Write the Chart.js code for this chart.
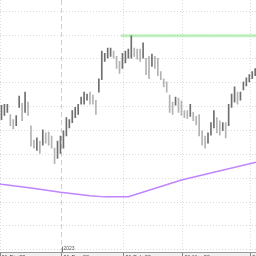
<!DOCTYPE html>
<html>
<head>
<meta charset="utf-8">
<script src="https://cdn.jsdelivr.net/npm/chart.js@4/dist/chart.umd.min.js"></script>
<style>
  html, body { margin: 0; padding: 0; background: #fff; }
  canvas { display: block; }
</style>
</head>
<body>
<canvas id="chart" width="256" height="256"></canvas>
<script>
// daily bars (high / low), one per trading day from 01-Dic-22
const highs = [
  15.06, 15.10, 15.10, 14.67, 14.46, 14.63, 15.44, 15.14, 15.61, 15.19,
  14.20, 13.60, 13.69, 13.56, 14.03, 13.90, 13.94, 13.77, 13.26, 13.56,
  13.77, 13.99, 14.54, 14.46, 14.84, 14.97, 15.10, 15.40, 15.61, 15.53,
  15.61, 15.49, 15.27, 16.17, 17.33, 17.24, 17.46, 17.46, 17.33, 17.11,
  16.90, 17.24, 17.33, 17.41, 17.97, 17.46, 17.41, 17.41, 17.67, 17.03,
  17.11, 17.20, 17.11, 17.03, 16.47, 16.17, 16.04, 15.49, 15.19, 15.40,
  15.36, 15.23, 14.84, 14.84, 15.10, 14.76, 14.59, 14.67, 13.99, 13.77,
  13.90, 14.33, 14.84, 14.54, 14.41, 14.33, 14.33, 15.10, 15.53, 15.83,
  15.61, 15.61, 16.04, 16.21, 16.34, 16.47, 16.60
];
const lows = [
  14.46, 14.63, 14.76, 14.20, 14.07, 14.20, 14.97, 14.41, 14.76, 14.63,
  13.34, 13.26, 13.17, 13.04, 13.39, 13.47, 13.39, 13.26, 12.61, 12.83,
  13.04, 13.26, 13.77, 14.11, 14.33, 14.54, 14.67, 15.10, 15.10, 15.27,
  15.10, 15.10, 14.67, 15.61, 16.13, 16.90, 17.03, 17.11, 17.03, 16.60,
  16.39, 16.60, 16.83, 17.03, 17.03, 17.11, 16.99, 16.90, 17.03, 16.34,
  16.17, 16.69, 16.60, 16.30, 16.13, 15.83, 15.61, 14.76, 14.67, 15.06,
  14.76, 14.63, 14.54, 14.50, 14.59, 14.41, 14.24, 13.77, 13.39, 13.26,
  13.47, 13.81, 14.11, 13.90, 13.81, 13.99, 13.69, 14.20, 14.97, 15.19,
  15.10, 15.27, 15.70, 15.87, 16.04, 16.17, 16.30
];

// moving average, read at a few bar positions
const maIdx = [-1, 0, 10, 20, 30, 35, 43, 50, 61, 72, 87];
const maVal = [11.77, 11.75, 11.59, 11.41, 11.27, 11.22, 11.23, 11.50, 11.93, 12.25, 12.69];

// resistance line
const resStart = 40.5;
const resEnd = 87;
const resLevel = 17.97;

// axis
const monthTicks = [-0.5, 20.5, 41.5, 61.5, 84.5];
const monthLabels = ['01-Dic-22', '01-Ene-23', '01-Feb-23', '01-Mar-23', '01-Abr-23'];
const yearTick = 20.5;
const yearLabel = '2023';
const gridLevels = [9, 10, 11, 12, 13, 14, 15, 16, 17, 18, 19];

// up / down shading
const barColors = highs.map((h, i) => {
    const mid = (h + lows[i]) / 2;
    const prev = i > 0 ? (highs[i - 1] + lows[i - 1]) / 2 : mid;
    return mid >= prev ? '#6f6f6f' : '#b3b3b3';
});

const axisBand = {
    id: 'axisBand',
    beforeDraw(chart) {
        const { ctx, chartArea, width, height } = chart;
        ctx.save();
        ctx.fillStyle = '#ffffff';
        ctx.fillRect(0, 0, width, height);
        ctx.fillStyle = '#f0f0f0';
        ctx.fillRect(0, chartArea.bottom, width, height - chartArea.bottom);
        ctx.restore();
    },
    afterDraw(chart) {
        const { ctx, chartArea } = chart;
        const x = Math.round(chart.scales.x.getPixelForValue(yearTick)) + 0.5;
        ctx.save();
        ctx.strokeStyle = '#777';
        ctx.lineWidth = 1;
        ctx.beginPath();
        ctx.moveTo(x, chartArea.bottom - 6);
        ctx.lineTo(x, chartArea.bottom);
        ctx.stroke();
        ctx.fillStyle = '#555';
        ctx.font = '5px "Liberation Sans"';
        ctx.textBaseline = 'bottom';
        ctx.fillText(yearLabel, x + 1, chartArea.bottom - 1);
        ctx.restore();
    }
};

new Chart(document.getElementById('chart'), {
    type: 'bar',
    data: {
        datasets: [
            {
                type: 'bar',
                data: highs.map((h, i) => ({ x: i, y: [lows[i], h] })),
                backgroundColor: barColors,
                barThickness: 1,
                borderWidth: 0,
                order: 0
            },
            {
                type: 'line',
                data: [{ x: resStart, y: resLevel }, { x: resEnd, y: resLevel }],
                borderColor: 'rgba(140, 230, 140, 0.55)',
                borderWidth: 3,
                pointRadius: 0,
                order: 2
            },
            {
                type: 'line',
                data: maIdx.map((x, i) => ({ x: x, y: maVal[i] })),
                borderColor: '#c084ff',
                borderWidth: 1.5,
                pointRadius: 0,
                tension: 0,
                order: 1
            }
        ]
    },
    options: {
        responsive: false,
        animation: false,
        layout: { padding: 0 },
        plugins: {
            legend: { display: false },
            tooltip: { enabled: false }
        },
        scales: {
            x: {
                type: 'linear',
                min: -0.5,
                max: 86.27,
                offset: false,
                afterBuildTicks: s => { s.ticks = monthTicks.map(v => ({ value: v })); },
                afterFit: s => { s.paddingLeft = 0; s.paddingRight = 0; },
                ticks: {
                    autoSkip: false,
                    align: 'start',
                    labelOffset: 1.5,
                    padding: -5.5,
                    maxRotation: 0,
                    minRotation: 0,
                    color: '#3a3a3a',
                    font: { family: 'Liberation Sans', size: 5.5, lineHeight: 1.55 },
                    callback: (v, i) => monthLabels[i]
                },
                grid: {
                    offset: false,
                    tickLength: 6,
                    color: c => (c.tick && c.tick.value === yearTick) ? '#d0d0d0' : '#dcdcdc',
                    tickColor: '#888'
                },
                border: {
                    color: '#9a9a9a',
                    dash: c => (c.tick && c.tick.value === yearTick) ? [5, 3] : [1, 2]
                }
            },
            y: {
                min: 8.89,
                max: 19.47,
                afterBuildTicks: s => { s.ticks = gridLevels.map(v => ({ value: v })); },
                ticks: { display: false },
                grid: { color: '#dadada', drawTicks: false },
                border: { display: false, dash: [1, 2] }
            }
        }
    },
    plugins: [axisBand]
});
</script>
</body>
</html>
